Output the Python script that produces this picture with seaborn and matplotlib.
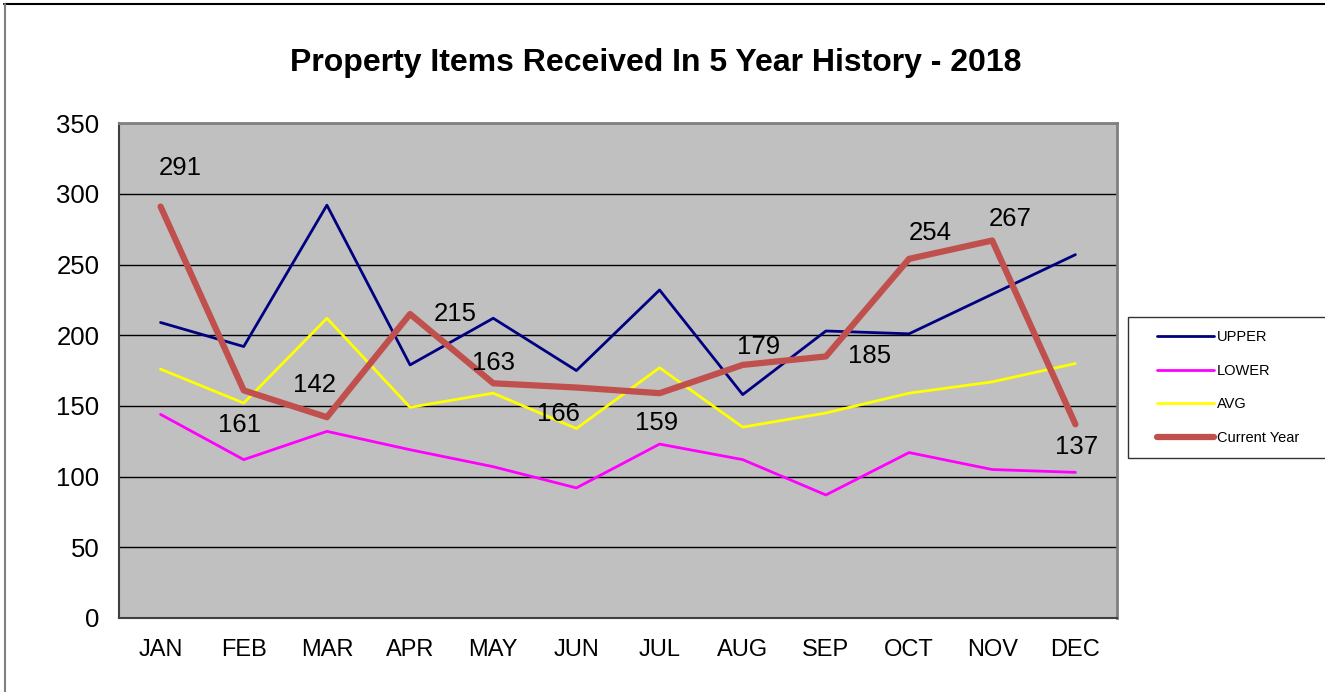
import pandas as pd
import numpy as np
import matplotlib.pyplot as plt
from matplotlib.lines import Line2D
from matplotlib.legend_handler import HandlerLine2D
import seaborn as sns

# chart data
months = ["JAN", "FEB", "MAR", "APR", "MAY", "JUN", "JUL", "AUG", "SEP", "OCT", "NOV", "DEC"]
upper = [209, 192, 292, 179, 212, 175, 232, 158, 203, 201, 229, 257]
lower = [144, 112, 132, 119, 107, 92, 123, 112, 87, 117, 105, 103]
avg = [176, 152, 212, 149, 159, 134, 177, 135, 145, 159, 167, 180]
current = [291, 161, 142, 215, 166, 163, 159, 179, 185, 254, 267, 137]
# labels as printed on the chart
current_labels = ["291", "161", "142", "215", "163", "166", "159", "179", "185", "254", "267", "137"]
yticks = [0, 50, 100, 150, 200, 250, 300, 350]

# label offsets in pixels (dx, dy)
label_offsets = [(20, 39), (-4, -35), (-12, 32), (45, 0), (0, 20), (-18, -26),
                 (-3, -30), (16, 18), (44, 0), (21, 26), (18, 22), (1, -23)]

sns.set_style("white")
plt.rcParams['font.family'] = ['Liberation Sans', 'DejaVu Sans']
plt.rcParams['text.color'] = 'black'
plt.rcParams['xtick.color'] = 'black'
plt.rcParams['ytick.color'] = 'black'

df = pd.DataFrame({"month": months, "UPPER": upper, "LOWER": lower,
                   "AVG": avg, "Current Year": current})

fig = plt.figure(figsize=(13.25, 6.92), dpi=100)
ax = fig.add_axes([0.0898, 0.107, 0.7532, 0.715])
ax.set_facecolor("#C0C0C0")

styles = {"UPPER": ("#000080", 2.0),
          "LOWER": ("#FF00FF", 2.0),
          "AVG": ("#FFFF00", 2.0),
          "Current Year": ("#C0504D", 4.5)}
for name, (col, lw) in styles.items():
    sns.lineplot(data=df, x="month", y=name, color=col, linewidth=lw,
                 label=name, ax=ax, solid_capstyle="round")

for i, (v, t) in enumerate(zip(current, current_labels)):
    ax.annotate(t, (i, v), xytext=label_offsets[i], textcoords="offset pixels",
                ha="center", va="center", fontsize=18.5, color="black")

ax.set_xlim(-0.5, 11.5)
ax.set_ylim(0, 350)
ax.set_yticks(yticks)
ax.set_xticks(range(12))
ax.set_xticklabels(months)
ax.set_xticks(np.arange(-0.5, 12, 1), minor=True)
ax.tick_params(axis="x", which="major", length=0, pad=15, labelsize=17, labelcolor="black")
ax.tick_params(axis="x", which="minor", length=8, width=1, color="#404040", direction="out")
ax.tick_params(axis="y", length=8, width=1, color="#404040", direction="out",
               labelsize=18.5, pad=6, labelcolor="black")
ax.set_xlabel("")
ax.set_ylabel("")
ax.grid(axis="y", color="black", linewidth=1)
ax.set_axisbelow(True)
for side in ["left", "bottom"]:
    ax.spines[side].set_color("#404040")
    ax.spines[side].set_linewidth(1.5)
for side in ["top", "right"]:
    ax.spines[side].set_color("#808080")
    ax.spines[side].set_linewidth(2)

fig.suptitle("Property Items Received In 5 Year History - 2018", x=0.495, y=0.909,
             fontsize=23, fontweight="bold", va="center", color="black")

handles, labels = ax.get_legend_handles_labels()
leg = ax.legend(handles, labels, loc="upper left", bbox_to_anchor=(0.851, 0.345, 0.16, 0.197),
                bbox_transform=fig.transFigure, mode="expand", fontsize=10.5,
                frameon=True, fancybox=False, handlelength=5.0, labelspacing=1.35,
                borderpad=0.9, handletextpad=0.2, borderaxespad=0,
                handler_map={Line2D: HandlerLine2D(xpad=1.15)})
leg.get_frame().set_edgecolor("black")
leg.get_frame().set_linewidth(1)

# outer chart frame
fig.add_artist(Line2D([0.003, 1], [0.994, 0.994], color="black", linewidth=1.5,
                      transform=fig.transFigure))
fig.add_artist(Line2D([0.0035, 0.0035], [0, 0.994], color="#808080", linewidth=1.5,
                      transform=fig.transFigure))

fig.savefig("out.png", dpi=100)
